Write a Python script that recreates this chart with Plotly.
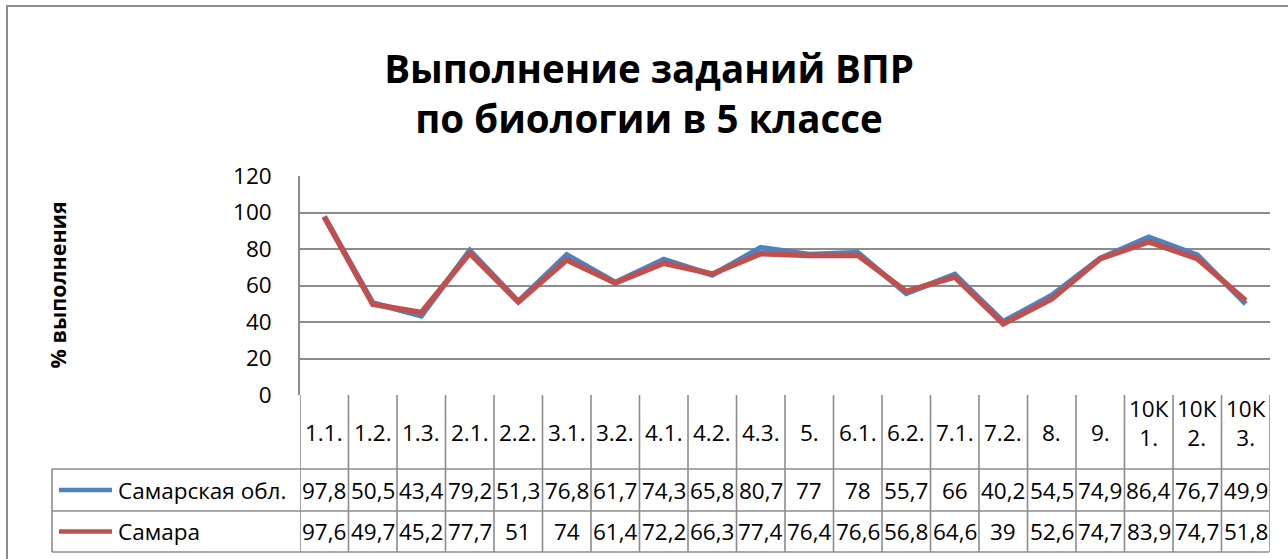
import plotly.graph_objects as go

# ---------------- data ----------------
categories = ["1.1.", "1.2.", "1.3.", "2.1.", "2.2.", "3.1.", "3.2.", "4.1.", "4.2.", "4.3.",
              "5.", "6.1.", "6.2.", "7.1.", "7.2.", "8.", "9.", "10К 1.", "10К 2.", "10К 3."]
series_names = ["Самарская обл.", "Самара"]
samara_obl = [97.8, 50.5, 43.4, 79.2, 51.3, 76.8, 61.7, 74.3, 65.8, 80.7,
              77, 78, 55.7, 66, 40.2, 54.5, 74.9, 86.4, 76.7, 49.9]
samara = [97.6, 49.7, 45.2, 77.7, 51, 74, 61.4, 72.2, 66.3, 77.4,
          76.4, 76.6, 56.8, 64.6, 39, 52.6, 74.7, 83.9, 74.7, 51.8]
y_ticks = [0, 20, 40, 60, 80, 100, 120]
title_text = "Выполнение заданий ВПР<br>по биологии в 5 классе"
y_title = "% выполнения"

# ---------------- style / geometry ----------------
W, H = 1288, 559
L, R, T, B = 300, 1270, 176, 395
PW, PH = R - L, B - T
colors = ["#4F81BD", "#C0504D"]
grid = "#8c8c8c"
FONT = "Open Sans"
FS = 22.5


def px_x(p):
    return (p - L) / PW


def px_y(p):
    return (B - p) / PH


def fmt(v):
    return f"{v:g}".replace(".", ",")


fig = go.Figure()
series = [samara_obl, samara]
for name, vals, col in zip(series_names, series, colors):
    fig.add_trace(go.Scatter(x=list(range(len(categories))), y=vals, name=name,
                             mode="lines", line=dict(color=col, width=5.5),
                             showlegend=False))

shapes = []
annotations = []

# outer chart border
shapes.append(dict(type="rect", xref="paper", yref="paper",
                   x0=px_x(7), x1=px_x(W + 20), y0=px_y(H + 20), y1=px_y(6),
                   line=dict(color=grid, width=2)))

# data table
row_lines = [469, 511, 552]
n = len(categories)
for i in range(n + 1):
    shapes.append(dict(type="line", xref="x", yref="paper", x0=i - 0.5, x1=i - 0.5,
                       y0=px_y(B), y1=px_y(552), line=dict(color=grid, width=1.6)))
for rl in row_lines:
    shapes.append(dict(type="line", xref="paper", yref="paper", x0=px_x(52), x1=1.0 - 1 / PW,
                       y0=px_y(rl), y1=px_y(rl), line=dict(color=grid, width=1.6)))
shapes.append(dict(type="line", xref="paper", yref="paper", x0=px_x(52), x1=px_x(52),
                   y0=px_y(469), y1=px_y(552), line=dict(color=grid, width=1.6)))

# header labels
for i, c in enumerate(categories):
    txt = c.replace(" ", "<br>")
    yc = 423 if " " in c else 432
    annotations.append(dict(x=i, y=px_y(yc), xref="x", yref="paper", text=txt,
                            showarrow=False, xanchor="center", yanchor="middle",
                            font=dict(family=FONT, size=FS, color="#000000")))

row_centers = [490, 531.5]
for r, (name, vals, col) in enumerate(zip(series_names, series, colors)):
    yc = row_centers[r]
    shapes.append(dict(type="line", xref="paper", yref="paper", x0=px_x(59), x1=px_x(112),
                       y0=px_y(yc), y1=px_y(yc), line=dict(color=col, width=4.5)))
    annotations.append(dict(x=px_x(116), y=px_y(yc), xref="paper", yref="paper", text=name,
                            showarrow=False, xanchor="left", yanchor="middle",
                            font=dict(family=FONT, size=FS, color="#000000")))
    for i, v in enumerate(vals):
        annotations.append(dict(x=i, y=px_y(yc), xref="x", yref="paper", text=fmt(v),
                                showarrow=False, xanchor="center", yanchor="middle",
                                font=dict(family=FONT, size=FS, color="#000000")))

# y-axis title
annotations.append(dict(x=px_x(57), y=0.5, xref="paper", yref="paper", text="<b>" + y_title + "</b>",
                        textangle=-90, showarrow=False, xanchor="center", yanchor="middle",
                        font=dict(family=FONT, size=21.5, color="#000000")))

fig.update_layout(
    width=W, height=H,
    margin=dict(l=L, r=W - R, t=T, b=H - B, pad=0),
    paper_bgcolor="white", plot_bgcolor="white",
    title=dict(text="<b>" + title_text + "</b>", x=649 / W, xanchor="center",
               y=1 - 83 / H, yanchor="middle", xref="container", yref="container",
               font=dict(family=FONT, size=38.5, color="#000000")),
    xaxis=dict(range=[-0.5, n - 0.5], showticklabels=False, showgrid=False,
               zeroline=False, showline=False, ticks=""),
    yaxis=dict(range=[0, 120], tickvals=y_ticks, showgrid=True, gridcolor=grid, gridwidth=1.6,
               zeroline=False, showline=True, linecolor=grid, linewidth=1.6,
               ticks="", ticklabelstandoff=22,
               tickfont=dict(family=FONT, size=FS, color="#000000")),
    shapes=shapes, annotations=annotations,
    font=dict(family=FONT),
)

fig.write_html("out.html", config={"displayModeBar": False},
               post_script="document.body.style.margin='0px';")
